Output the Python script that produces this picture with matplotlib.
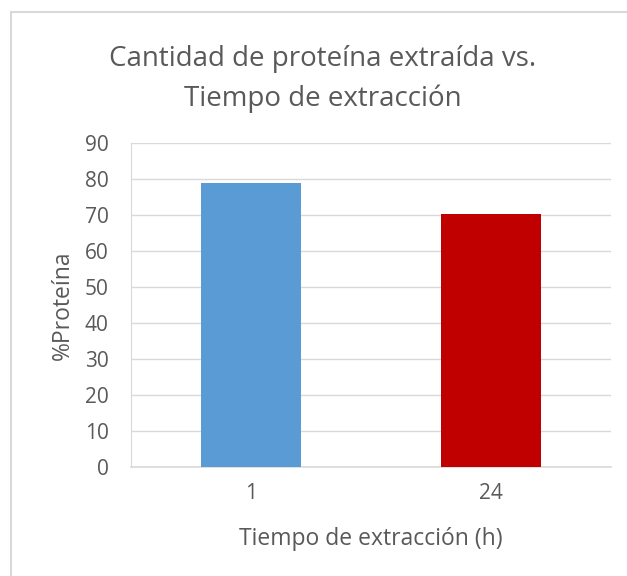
import matplotlib.pyplot as plt
from matplotlib.patches import Rectangle

# datos
categorias = ["1", "24"]
proteina = [79, 70.4]
colores = ["#5B9BD5", "#C00000"]
yticks = [0, 10, 20, 30, 40, 50, 60, 70, 80, 90]

gris_texto = "#595959"
gris_linea = "#D9D9D9"

plt.rcParams['font.family'] = ['Open Sans', 'DejaVu Sans']

fig = plt.figure(figsize=(6.27, 5.76), dpi=100)
ax = fig.add_axes([131 / 627, 1 - 467.3 / 576, 480 / 627, 324 / 576])

# marco del area del grafico (solo se ven arriba e izquierda)
fig.patches.append(Rectangle((11 / 627, -0.1), 1.2, (576 - 12) / 576 + 0.1,
                             transform=fig.transFigure, fill=False,
                             edgecolor=gris_linea, linewidth=1.5))

x = list(range(len(categorias)))
ax.bar(x, proteina, width=0.42, color=colores, zorder=3)

ax.set_xlim(-0.5, len(categorias) - 0.5)
ax.set_ylim(0, 90)
ax.set_yticks(yticks)
ax.set_xticks(x)
ax.set_xticklabels(categorias)
ax.yaxis.grid(True, color=gris_linea, linewidth=1, zorder=0)
ax.tick_params(axis='both', length=0, labelsize=15, colors=gris_texto)
ax.tick_params(axis='x', pad=11)
ax.tick_params(axis='y', pad=16)

for s in ['top', 'right']:
    ax.spines[s].set_visible(False)
ax.spines['left'].set_color(gris_linea)
ax.spines['bottom'].set_color(gris_linea)
ax.spines['bottom'].set_linewidth(1.2)

ax.set_ylabel("%Proteína", fontsize=16.5, color=gris_texto, labelpad=7.5)
ax.set_xlabel("Tiempo de extracción (h)", fontsize=16.5, color=gris_texto, labelpad=17)

fig.text(323 / 627, 1 - 79 / 576, "Cantidad de proteína extraída vs.\nTiempo de extracción",
         ha='center', va='center', fontsize=20, color=gris_texto, linespacing=1.55)

fig.savefig("out.png", dpi=100)
